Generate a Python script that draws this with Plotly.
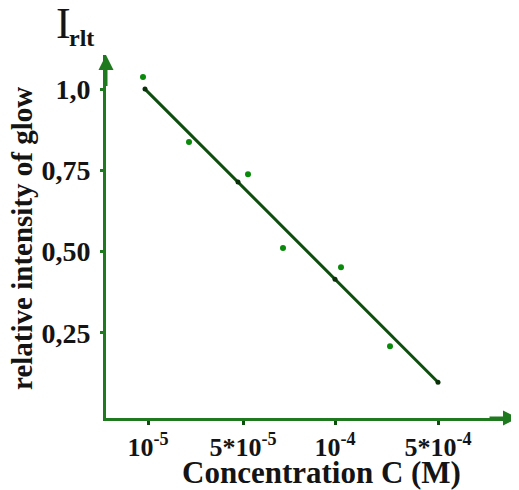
import plotly.graph_objects as go

# tick positions (evenly spaced category-like positions as in the figure)
tick_pos = [0, 0.95, 1.87, 2.90]
tick_text = ["10<sup>-5</sup>", "5*10<sup>-5</sup>", "10<sup>-4</sup>", "5*10<sup>-4</sup>"]
y_ticks = [0.25, 0.50, 0.75, 1.0]
y_tick_text = ["0,25", "0,50", "0,75", "1,0"]

# measured points
pts_x = [-0.05, 0.41, 1.00, 1.35, 1.93, 2.42]
pts_y = [1.037, 0.837, 0.738, 0.511, 0.452, 0.209]

# fitted line
fit_x = [-0.03, 0.90, 1.87, 2.90]
fit_y = [1.0, 0.714, 0.415, 0.098]

AXIS_GREEN = "#1f7a1f"
TEXT = "#141414"
serif = "Liberation Serif, Times New Roman, serif"

fig = go.Figure()
fig.add_trace(go.Scatter(x=fit_x, y=fit_y, mode="lines+markers",
                         line=dict(color="#0d4d0d", width=3),
                         marker=dict(color="#0a300a", size=5),
                         showlegend=False, hoverinfo="skip"))
fig.add_trace(go.Scatter(x=pts_x, y=pts_y, mode="markers",
                         marker=dict(color="#0a8a0a", size=6),
                         showlegend=False))

xr = [-0.42, 3.70]
yr = [-0.012, 1.105]

fig.update_layout(
    width=511, height=482,
    margin=dict(l=98, r=1, t=47, b=72),
    plot_bgcolor="white", paper_bgcolor="white",
    font=dict(family=serif, color=TEXT),
    xaxis=dict(range=xr, tickvals=tick_pos, ticktext=tick_text,
               automargin=False,
               showgrid=False, zeroline=False, showline=True,
               linecolor=AXIS_GREEN, linewidth=3,
               ticks="outside", ticklen=4, tickwidth=3, tickcolor="#0d4d0d",
               ticklabelstandoff=0,
               tickfont=dict(size=26, family=serif, color=TEXT, weight="bold")),
    yaxis=dict(range=yr, tickvals=y_ticks, ticktext=y_tick_text,
               automargin=False,
               showgrid=False, zeroline=False, showline=True,
               linecolor=AXIS_GREEN, linewidth=3,
               ticks="outside", ticklen=3, tickwidth=3, tickcolor=AXIS_GREEN,
               ticklabelstandoff=4,
               tickfont=dict(size=28, family=serif, color=TEXT, weight="bold")),
)

# axis titles
fig.add_annotation(x=-0.204, y=0.496, xref="paper", yref="paper",
                   xanchor="center", yanchor="middle", textangle=-90,
                   showarrow=False, text="<b>relative intensity of glow</b>",
                   font=dict(size=29, family=serif, color=TEXT))
fig.add_annotation(x=0.524, y=-0.150, xref="paper", yref="paper",
                   xanchor="center", yanchor="middle",
                   showarrow=False, text="<b>Concentration C (M)</b>",
                   font=dict(size=31, family=serif, color=TEXT))

# axis arrows
fig.add_annotation(x=xr[1], y=yr[0], ax=xr[1] - 0.3, ay=yr[0],
                   xref="x", yref="y", axref="x", ayref="y",
                   showarrow=True, arrowhead=2, arrowsize=1, arrowwidth=3,
                   arrowcolor=AXIS_GREEN, text="")
fig.add_annotation(x=xr[0], y=yr[1], ax=xr[0], ay=yr[1] - 0.1,
                   xref="x", yref="y", axref="x", ayref="y",
                   showarrow=True, arrowhead=2, arrowsize=1, arrowwidth=3,
                   arrowcolor=AXIS_GREEN, text="")

# I_rlt label
fig.add_annotation(x=-0.104, y=1.086, xref="paper", yref="paper",
                   xanchor="center", yanchor="middle", showarrow=False,
                   text="I", font=dict(size=44, family=serif, color=TEXT))
fig.add_annotation(x=-0.095, y=1.047, xref="paper", yref="paper",
                   xanchor="left", yanchor="middle", showarrow=False,
                   text="<b>rlt</b>", font=dict(size=24, family=serif, color=TEXT))

fig.write_html("out.html")
